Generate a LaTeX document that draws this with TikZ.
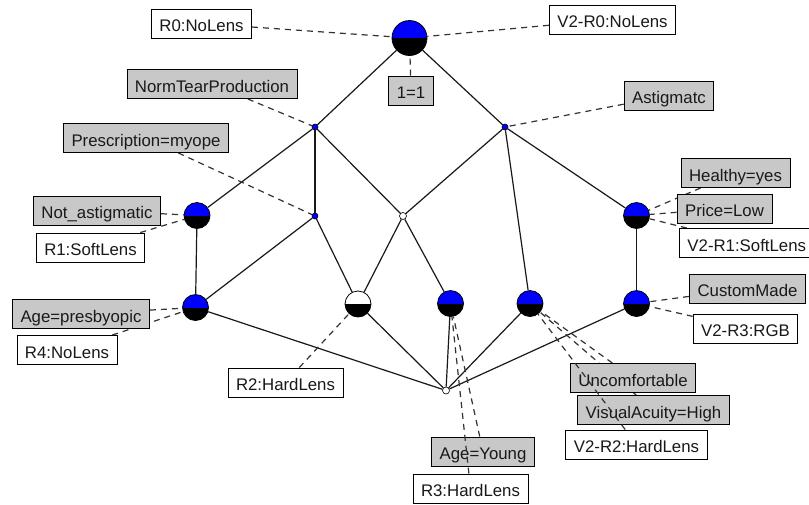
\documentclass[tikz,border=0pt]{standalone}
\usepackage{fontspec}
\setmainfont{Liberation Sans}
\usetikzlibrary{backgrounds}
\pgfdeclarelayer{paper}
\pgfdeclarelayer{background}
\pgfsetlayers{paper,background,main}
\definecolor{boxgray}{RGB}{200,200,200}
\definecolor{conblue}{RGB}{0,0,255}
\begin{document}
\begin{tikzpicture}[x=1pt,y=-1pt,
  lbl/.style={draw=black, line width=0.9pt, font=\fontsize{16.8}{18}\selectfont, text=black!90,
    inner xsep=8pt, inner ysep=0pt, text height=22.5pt, text depth=6.5pt},
  attr/.style={lbl, fill=boxgray},
  obj/.style={lbl, fill=white},
  conc/.style={circle, draw=black, line width=0.8pt, minimum size=26pt, inner sep=0pt,
    path picture={\fill[#1] (path picture bounding box.north west) rectangle (path picture bounding box.east);
      \fill[black] (path picture bounding box.west) rectangle (path picture bounding box.south east);}},
  conc/.default=conblue,
  dot/.style={circle, draw=black, line width=0.6pt, fill=#1, minimum size=6pt, inner sep=0pt},
  solidln/.style={draw=black!90, line width=1.2pt},
  lblline/.style={draw=black!80, line width=1.2pt, dash pattern=on 6pt off 5pt},
]
\begin{pgfonlayer}{paper}
  \fill[white] (0,0) rectangle (809,504);
\end{pgfonlayer}
\useasboundingbox (0,0) rectangle (809,504);

% concept nodes
\node[conc, minimum size=35pt] (T) at (409.5,38) {};
\node[dot=conblue] (A) at (315,127) {};
\node[dot=conblue] (B) at (505,127) {};
\node[dot=conblue] (P) at (315,216) {};
\node[dot=white, minimum size=7pt] (Ws) at (403,216) {};
\node[conc] (L1) at (197,215.5) {};
\node[conc] (L2) at (195.5,307.5) {};
\node[conc=white] (W) at (358,304) {};
\node[conc] (U1) at (450.5,303.5) {};
\node[conc] (U2) at (530,303.5) {};
\node[conc] (R1c) at (636.5,215.5) {};
\node[conc] (R2c) at (636.5,303.5) {};
\node[dot=white, minimum size=7pt] (N) at (446,390.5) {};

% label boxes
\node[obj] (R0) at (201.5,23.5) {R0:NoLens};
\node[obj] (V2R0) at (612.5,19.5) {V2-R0:NoLens};
\node[attr] (one) at (411,90.5) {1=1};
\node[attr] (NTP) at (212,84) {NormTearProduction};
\node[attr] (Ast) at (669,95.5) {Astigmatc};
\node[attr] (Pre) at (146,138) {Prescription=myope};
\node[attr] (NAst) at (97,210.5) {Not\_astigmatic};
\node[obj] (R1) at (90.5,247.5) {R1:SoftLens};
\node[attr] (AgeP) at (81,314) {Age=presbyopic};
\node[obj] (R4) at (67,350) {R4:NoLens};
\node[obj] (R2) at (285.5,382.5) {R2:HardLens};
\node[attr] (Hea) at (735.5,173) {Healthy=yes};
\node[attr] (Pri) at (724.5,208.5) {Price=Low};
\node[obj, anchor=west] (V2R1) at (679,243) {V2-R1:SoftLens};
\node[attr] (Cus) at (747.5,288.5) {CustomMade};
\node[obj] (V2R3) at (745.5,328.5) {V2-R3:RGB};
\node[attr] (Unc) at (633,378) {Uncomfortable};
\node[attr] (Vis) at (653.5,410) {VisualAcuity=High};
\node[obj] (V2R2) at (636.5,444.5) {V2-R2:HardLens};
\node[attr] (AgeY) at (483,451.5) {Age=Young};
\node[obj] (R3) at (470.5,488.5) {R3:HardLens};

\begin{pgfonlayer}{background}
  % lattice edges
  \draw[solidln] (T) -- (A);
  \draw[solidln] (T) -- (B);
  \draw[solidln] (A) -- (L1);
  \draw[solidln] (A) -- (P);
  \draw[solidln] (A) -- (Ws);
  \draw[solidln] (B) -- (Ws);
  \draw[solidln] (B) -- (U2);
  \draw[solidln] (B) -- (R1c);
  \draw[solidln] (L1) -- (L2);
  \draw[solidln] (P) -- (L2);
  \draw[solidln] (P) -- (W);
  \draw[solidln] (Ws) -- (W);
  \draw[solidln] (Ws) -- (U1);
  \draw[solidln] (R1c) -- (R2c);
  \draw[solidln] (L2) -- (N);
  \draw[solidln] (W) -- (N);
  \draw[solidln] (U1) -- (N);
  \draw[solidln] (U2) -- (N);
  \draw[solidln] (R2c) -- (N);
  % label connectors
  \draw[lblline] (R0) -- (T);
  \draw[lblline] (V2R0) -- (T);
  \draw[lblline] (one) -- (T);
  \draw[lblline] (NTP) -- (A);
  \draw[lblline] (Ast) -- (B);
  \draw[lblline] (Pre) -- (P);
  \draw[lblline] (NAst) -- (L1);
  \draw[lblline] (R1) -- (L1);
  \draw[lblline] (AgeP) -- (L2);
  \draw[lblline] (R4) -- (L2);
  \draw[lblline] (R2) -- (W);
  \draw[lblline] (Hea) -- (R1c);
  \draw[lblline] (Pri) -- (R1c);
  \draw[lblline] (V2R1) -- (R1c);
  \draw[lblline] (Cus) -- (R2c);
  \draw[lblline] (V2R3) -- (R2c);
  \draw[lblline] (Unc) -- (U2);
  \draw[lblline] (Vis.center) -- (U2);
  \draw[lblline] (AgeY) -- (U1);
\end{pgfonlayer}
% connectors drawn over other label boxes
\draw[lblline] (V2R2) -- (U2);
\draw[lblline] (R3) -- (U1);
\end{tikzpicture}
\end{document}
